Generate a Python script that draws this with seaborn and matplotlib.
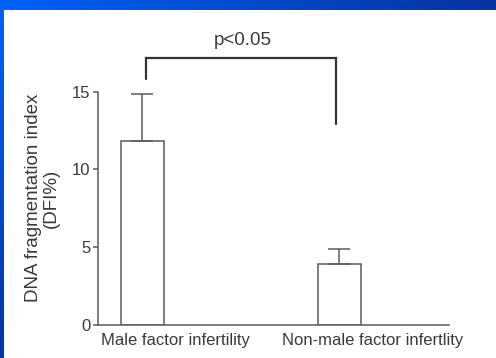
import numpy as np
import pandas as pd
import matplotlib
matplotlib.use("Agg")
import matplotlib.pyplot as plt
import matplotlib.transforms as mtransforms
from matplotlib.patches import Rectangle
import seaborn as sns

# ---- data ----
categories = ["Male factor infertility", "Non-male factor infertlity"]
means = [11.85, 3.9]
sem = [3.0, 1.0]
yticks = [0, 5, 10, 15]
p_label = "p<0.05"
bracket_y = [15.8, 17.15, 12.95]   # left foot, top, right foot (data units)

sns.set_theme(style="white")
plt.rcParams["font.family"] = ["Liberation Sans", "DejaVu Sans"]

TXT = "#3a3a3a"
LN = "#5a5a5a"

W, H, DPI = 496, 358, 100
fig = plt.figure(figsize=(W / DPI, H / DPI), dpi=DPI)

# ---- slide background: blue gradient frame + white panel ----
bg = fig.add_axes([0, 0, 1, 1], zorder=-10)
bg.set_axis_off()
xx, yy = np.meshgrid(np.linspace(0, 1, W), np.linspace(0, 1, H))
t = np.clip((xx + yy) / 1.0, 0, 1)[..., None]
c0 = np.array([0, 98, 250]) / 255.0
c1 = np.array([8, 52, 160]) / 255.0
bg.imshow(c0 + (c1 - c0) * t, aspect="auto", extent=[0, 1, 0, 1], origin="upper")
bg.add_patch(Rectangle((4 / W, 0), 1, 1 - 10 / H, transform=bg.transAxes,
                       facecolor="white", edgecolor="none"))
bg.set_xlim(0, 1)
bg.set_ylim(0, 1)

# ---- main axes ----
ax = fig.add_axes([98 / W, 33 / H, 351 / W, 233.3 / H])
ax.patch.set_alpha(0)
df = pd.DataFrame({"group": categories, "DFI": means})
sns.barplot(data=df, x="group", y="DFI", color="white", saturation=1,
            width=0.22, edgecolor=LN, linewidth=1.1, errorbar=None, ax=ax)
ax.errorbar(x=np.arange(len(means)), y=means,
            yerr=[np.zeros(len(sem)), sem], fmt="none",
            ecolor=LN, elinewidth=1.1, capsize=7.7, capthick=1.1, zorder=3)

ax.set_xlim(-0.226, 1.557)
ax.set_ylim(0, 15)
ax.set_yticks(yticks)
ax.set_yticklabels([str(v) for v in yticks])
sns.despine(ax=ax)
for s in ["left", "bottom"]:
    ax.spines[s].set_color(LN)
    ax.spines[s].set_linewidth(1.1)
ax.tick_params(axis="y", left=True, length=3.6, width=1.1, color=LN,
               pad=1.8, labelsize=12, labelcolor=TXT)
ax.tick_params(axis="x", bottom=False, length=0, pad=5.5,
               labelsize=12, labelcolor=TXT)
ax.set_xlabel("")
off = mtransforms.ScaledTranslation(33 / DPI, 0, fig.dpi_scale_trans)
for lab in ax.get_xticklabels():
    lab.set_transform(lab.get_transform() + off)

ax.set_ylabel("DNA fragmentation index\n(DFI%)", fontsize=13.5, color=TXT,
              linespacing=1.05)
ax.yaxis.set_label_coords(-0.158, 0.544)
ax.yaxis.label.set_va("center")

# ---- significance bracket ----
ax.plot([0.02, 0.02, 0.985, 0.985],
        [bracket_y[0], bracket_y[1], bracket_y[1], bracket_y[2]],
        color="#333333", lw=1.6, clip_on=False, solid_joinstyle="miter")
ax.text(0.51, 18.0, p_label, ha="center", va="baseline",
        fontsize=13.5, color=TXT, clip_on=False)

fig.savefig("out.png", dpi=DPI)
